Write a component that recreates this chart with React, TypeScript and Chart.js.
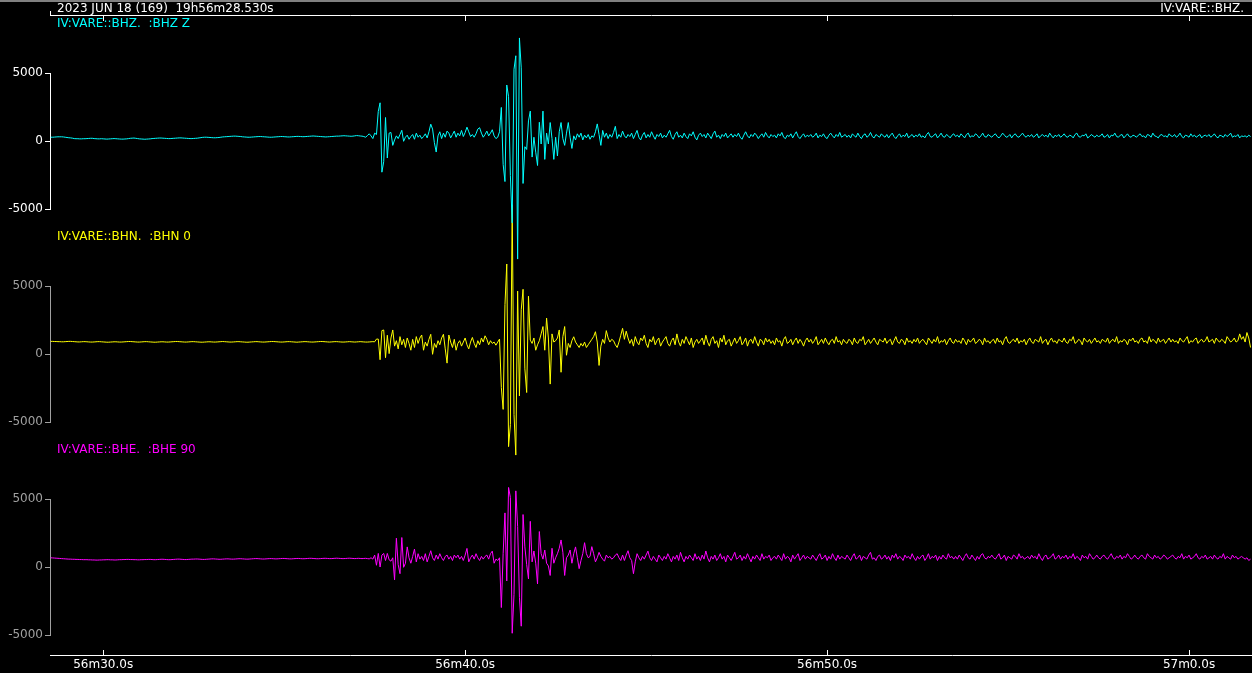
import React, { useEffect, useRef } from 'react';
import { Chart, registerables } from 'chart.js';

Chart.register(...registerables);

const headerLeft = '2023 JUN 18 (169)  19h56m28.530s';
const headerRight = 'IV:VARE::BHZ.';
const channelLabels = ['IV:VARE::BHZ.  :BHZ Z', 'IV:VARE::BHN.  :BHN 0', 'IV:VARE::BHE.  :BHE 90'];
const channelColors = ['#00ffff', '#ffff00', '#ff00ff'];
const axisColors = ['#ffffff', '#a0a0a0', '#a0a0a0'];

// time in seconds after 19h56m00s
const timeMin = 28.53;
const timeMax = 61.74;
const sampleStart = 28.55;
const sampleStep = 0.05;
const timeTickValues = [30, 40, 50, 60];
const timeTickLabels = ['56m30.0s', '56m40.0s', '56m50.0s', '57m0.0s'];
const ampTickValues = [-5000, 0, 5000];
const ampTickLabels = ['-5000', '0', '5000'];

// BHZ counts, one sample per 0.05 s (rows of 1 s)
const zValues = [
  300,300,310,320,330,330,330,320,300,280,260,250,230,200,190,190,180,180,190,190,
  200,210,220,220,200,190,180,180,190,180,170,160,170,180,190,200,190,180,170,160,
  160,170,180,200,220,230,240,220,200,180,170,160,150,160,170,180,200,210,220,230,
  240,240,230,220,210,200,200,210,220,230,240,250,250,240,230,220,210,200,200,210,
  220,230,250,270,290,300,300,290,280,270,260,260,270,280,300,320,330,340,350,360,
  370,380,380,370,360,350,330,320,310,300,300,310,320,330,340,350,350,340,330,320,
  310,300,300,310,320,330,340,350,350,340,330,320,320,330,340,350,360,360,350,340,
  340,350,360,370,380,390,380,370,360,350,340,330,320,330,340,350,360,370,380,380,
  390,400,410,400,390,380,370,380,400,420,410,390,380,350,300,420,550,400,200,600,
  500,2200,2830,-2270,-1500,1750,-1230,600,650,-300,100,400,200,500,810,0,300,450,150,350,
  500,150,600,300,450,200,350,550,250,700,1260,900,-100,-790,400,700,200,600,300,750,
  600,250,500,750,300,600,400,800,350,650,1040,700,350,500,300,550,900,1000,600,300,
  500,750,400,600,850,400,200,300,700,2490,-1700,-2960,4140,3280,-2520,-6000,5300,6290,-8660,7600,
  5400,-3100,-400,-600,1500,2220,-1160,300,-800,-1780,1400,-200,2220,-1330,600,-200,1380,200,-1330,300,
  -1080,700,1380,200,-300,600,1380,300,-525,400,100,550,300,600,100,450,250,500,150,400,
  300,700,1280,500,-300,800,300,600,200,500,300,650,1100,200,500,300,750,400,250,500,
  350,600,200,500,800,300,100,450,650,250,500,300,700,400,150,500,350,600,250,450,
  300,550,800,350,150,500,700,300,450,250,600,350,200,550,400,700,300,100,450,600,
  350,500,250,600,400,200,550,750,300,450,200,500,350,600,250,400,550,300,500,350,
  600,300,150,450,700,400,250,500,350,600,450,200,400,550,300,650,400,250,500,350,
  450,250,550,400,650,300,200,450,350,550,250,500,700,350,200,400,550,300,450,350,
  500,300,400,600,250,450,350,550,300,200,450,600,400,250,500,350,650,300,400,500,
  300,450,250,550,400,300,600,350,200,450,550,300,400,650,350,250,500,400,300,550,
  400,300,500,250,450,600,350,200,400,550,300,450,350,600,250,400,500,300,450,350,
  550,300,400,250,500,650,350,300,450,550,250,400,600,350,300,500,400,250,450,550,
  350,450,300,550,400,250,500,600,300,400,350,550,450,250,400,600,350,300,500,400,
  300,450,550,350,250,400,600,450,300,350,500,250,450,550,350,300,450,600,400,300,
  450,350,500,300,400,550,250,400,500,350,450,300,600,400,250,450,350,500,300,400,
  550,350,300,450,400,250,500,600,350,300,450,400,550,250,350,500,400,300,450,350,
  400,550,300,350,500,250,450,400,600,350,300,450,500,250,400,550,350,300,450,400,
  300,450,550,350,400,250,500,450,300,600,400,350,250,450,500,350,400,300,550,400,
  350,500,300,400,600,350,250,450,400,300,550,350,450,300,400,500,250,400,450,350,
  500,300,400,550,350,250,450,400,300,500,350,450,600,300,400,350,500,250,400,350,
  400,300,450,350,
];

// BHN counts
const nValues = [
  950,950,940,940,930,930,920,920,930,940,950,950,940,930,920,910,910,920,930,930,
  920,910,900,900,910,920,930,930,920,910,900,890,890,900,910,920,920,910,900,900,
  910,920,930,940,940,930,920,910,900,900,910,920,930,930,920,910,900,890,890,900,
  910,920,920,910,900,900,910,920,930,940,940,930,920,910,900,900,910,920,930,930,
  920,910,900,890,890,900,910,920,920,910,900,900,910,920,930,940,930,920,910,900,
  900,910,920,930,930,920,910,900,890,890,900,910,920,930,930,920,910,900,900,910,
  920,930,940,940,930,920,910,900,900,910,920,930,930,920,910,900,890,900,910,920,
  930,930,920,910,900,900,910,920,930,940,940,930,920,910,900,910,920,930,930,920,
  910,900,900,910,920,930,920,910,900,910,920,930,920,910,900,900,910,920,930,920,
  1120,1120,-400,1740,1790,-250,1400,50,1200,1790,600,1000,400,1300,700,1100,500,1200,800,300,
  1100,500,1300,800,1200,1420,300,900,600,1100,1470,0,800,500,1000,700,1200,1470,400,-650,
  1420,900,500,1100,300,800,1000,600,900,1200,700,400,900,1240,800,500,1000,700,1200,900,
  1360,1100,700,1000,800,900,670,900,1120,-2440,-4050,3650,6640,-6790,-5170,11000,-4430,-7410,4650,-3060,
  3280,4780,-1070,-2810,4270,1040,800,1200,300,700,1000,1500,2040,300,2660,1200,-2190,1500,900,1000,
  1200,1790,-1320,1300,2040,-70,800,500,1000,1290,900,700,500,800,600,900,500,700,900,1100,
  1300,1660,900,-820,600,1100,800,1740,1200,900,1100,1000,700,500,900,1400,1910,1100,1700,1200,
  800,1100,600,1300,900,700,1200,1000,1400,800,500,1100,900,1300,700,1000,1200,600,900,1100,
  1300,800,600,1000,1200,700,1500,900,600,1100,800,1300,1000,700,1200,500,900,1100,800,1000,
  1200,700,1400,900,600,1100,1300,800,1000,500,1200,900,1400,700,1000,1100,600,900,1200,800,
  1000,1300,700,900,1200,600,1000,1100,800,1300,900,600,1100,1000,700,1200,900,1100,800,1000,
  700,1200,900,1000,600,1100,1300,800,900,1100,700,1000,1200,800,1100,900,600,1000,1200,900,
  1100,800,1000,1300,700,900,1100,800,1200,900,700,1000,1100,800,1300,900,1000,700,1100,900,
  800,1100,1000,700,1200,900,800,1100,1000,1300,700,900,1100,800,1000,1200,900,700,1100,1000,
  900,1200,800,1000,1100,700,1000,1300,900,800,1100,1000,700,1200,900,1000,800,1100,900,1200,
  800,1000,1100,900,700,1200,1000,800,1100,900,1300,800,1000,900,1100,700,1000,1200,900,800,
  1100,900,1000,800,1200,1000,700,1100,900,1000,1200,800,900,1100,1000,700,1200,900,1000,800,
  1000,1100,800,1200,900,1000,700,1100,1300,900,800,1000,1100,900,1200,800,1000,900,1100,700,
  1000,1200,900,800,1100,1000,900,1300,800,1000,1100,700,1000,1200,900,1000,800,1100,1000,900,
  1200,900,800,1100,1000,1300,800,900,1100,1000,700,1200,1000,900,1100,800,1000,1200,900,1000,
  800,1100,1000,900,1200,800,1000,1100,900,1300,800,1000,900,1100,1000,700,1100,1000,1200,900,
  1000,800,1100,1200,900,1000,800,1300,900,1100,1000,800,1200,900,1000,1100,800,1000,1200,900,
  1100,900,1000,800,1200,1000,900,1100,1300,800,1000,900,1100,1200,800,1000,1100,900,1000,1300,
  900,1000,1100,800,1200,1000,900,1100,1000,800,1300,1100,900,1000,1200,900,1000,1500,1100,1300,
  900,1600,1200,500,
];

// BHE counts
const eValues = [
  700,690,680,670,660,650,640,630,620,610,600,600,590,590,580,580,570,570,560,560,
  560,550,550,540,540,530,530,540,540,550,550,560,560,550,550,540,540,550,560,560,
  570,570,580,580,570,570,560,560,550,550,560,560,570,570,580,580,570,560,560,570,
  580,590,590,580,570,560,560,570,580,590,600,600,590,580,570,570,580,590,600,600,
  610,610,600,590,580,580,590,600,610,620,620,610,600,590,590,600,610,620,620,610,
  600,600,610,620,630,630,620,610,600,600,610,620,630,640,640,630,620,610,610,620,
  630,640,640,630,620,620,630,640,650,650,640,630,620,620,630,640,650,650,640,630,
  630,640,650,660,660,650,640,630,630,640,650,660,660,650,640,640,650,660,670,660,
  650,640,640,650,660,670,660,650,640,650,660,650,640,650,660,640,620,700,600,900,
  150,1020,20,900,1020,500,1020,550,450,700,-920,2140,200,-470,2190,0,300,1500,700,300,
  800,1340,400,1000,600,800,500,1000,400,800,1220,700,500,900,600,1000,700,500,800,900,
  600,800,500,900,700,900,600,800,500,900,1390,400,700,900,600,1000,700,500,800,600,
  800,900,600,1000,1190,300,600,500,700,-2960,1000,4000,-1000,5870,5130,-4850,-2000,5620,3000,-2210,
  -4330,3880,1500,200,-850,3380,400,1200,300,-1220,2630,1000,600,1270,300,100,-600,1400,300,700,
  1000,1400,2010,1100,-600,700,900,1270,300,1000,1500,700,-100,500,1000,1810,1000,700,800,1520,
  1000,400,700,1100,800,600,450,900,700,800,600,700,900,1000,700,500,900,500,900,1220,
  700,500,-470,400,1000,700,500,800,600,900,1190,700,500,800,600,400,900,700,500,800,
  600,1000,700,400,800,600,900,500,1100,700,400,800,600,900,700,500,1000,600,800,500,
  900,600,1200,700,400,800,600,900,500,700,1000,600,800,400,900,700,500,800,1100,600,
  700,900,500,800,600,1000,700,400,800,600,900,700,500,1000,600,800,700,900,500,700,
  800,600,900,700,500,1000,600,800,700,400,900,600,800,1000,500,700,900,600,800,700,
  600,900,700,500,800,1000,600,700,900,500,800,600,1000,700,500,900,600,800,700,600,
  900,700,500,800,1000,600,700,900,500,800,700,600,900,1100,600,700,500,800,900,600,
  700,900,600,800,500,900,700,1000,600,800,700,500,900,700,800,600,1000,700,500,800,
  600,800,900,500,700,1000,600,800,700,900,500,800,600,900,700,600,1000,700,800,600,
  800,600,900,700,500,800,1000,700,600,900,700,500,800,600,900,1000,700,600,800,700,
  900,700,600,800,1000,600,700,900,500,800,700,600,900,800,600,1000,700,800,600,700,
  800,600,900,700,800,600,1000,700,500,800,900,600,700,800,1000,600,700,900,600,800,
  700,900,600,800,700,1000,600,800,700,500,900,700,800,600,1000,800,600,700,900,700,
  600,800,900,700,600,800,1000,700,600,800,700,900,600,800,700,1000,800,600,700,900,
  700,600,800,900,700,600,1000,800,700,600,900,700,800,600,700,900,800,600,700,800,
  900,700,600,800,700,1000,600,800,700,900,600,700,800,1000,700,600,800,700,900,600,
  700,800,600,900,700,600,800,700,1000,600,800,700,600,900,700,800,600,700,800,700,
  600,700,500,600,
];

const FONT = { family: 'DejaVu Sans', size: 12 };

const toPoints = (vals: number[]) => vals.map((v, i) => ({ x: sampleStart + i * sampleStep, y: v }));

const panelAxis = (weight: number, stackWeight: number, color: string) => ({
  type: 'linear',
  position: 'left',
  stack: 'panels',
  stackWeight,
  weight,
  min: -5000,
  max: 5000,
  afterFit: (s: any) => { s.width = 50; },
  afterBuildTicks: (s: any) => { s.ticks = ampTickValues.map((v) => ({ value: v })); },
  ticks: {
    color,
    font: FONT,
    padding: 2,
    autoSkip: false,
    callback: (v: any) => {
      const k = ampTickValues.indexOf(Number(v));
      return k >= 0 ? ampTickLabels[k] : '';
    },
  },
  grid: { display: true, drawOnChartArea: false, drawTicks: true, tickLength: 5, color, tickColor: color, lineWidth: 1 },
  border: { display: true, color, width: 1 },
});

const gapAxis = (weight: number, stackWeight: number) => ({
  type: 'linear',
  position: 'left',
  stack: 'panels',
  stackWeight,
  weight,
  afterFit: (s: any) => { s.width = 50; },
  ticks: { display: false },
  grid: { display: false, drawTicks: false },
  border: { display: false },
});

const decorPlugin = {
  id: 'decor',
  beforeDraw(chart: any) {
    const { ctx, width, height } = chart;
    ctx.save();
    ctx.fillStyle = '#000';
    ctx.fillRect(0, 0, width, height);
    ctx.restore();
  },
  afterDraw(chart: any) {
    const { ctx, chartArea, scales } = chart;
    ctx.save();
    ctx.fillStyle = '#808080';
    ctx.fillRect(0, 0, chart.width, 2);
    ctx.strokeStyle = '#ffffff';
    ctx.lineWidth = 1;
    ctx.beginPath();
    for (const v of timeTickValues) {
      const px = Math.round(scales.x.getPixelForValue(v)) + 0.5;
      ctx.moveTo(px, chartArea.top);
      ctx.lineTo(px, chartArea.top + 6);
      ctx.moveTo(px, chartArea.bottom);
      ctx.lineTo(px, chartArea.bottom - 5);
    }
    ctx.moveTo(chartArea.left + 0.5, chartArea.top - 4);
    ctx.lineTo(chartArea.left + 0.5, chartArea.top);
    ctx.stroke();
    ctx.font = '12px "DejaVu Sans"';
    ctx.textBaseline = 'alphabetic';
    ctx.fillStyle = '#ffffff';
    ctx.textAlign = 'left';
    ctx.fillText(headerLeft, chartArea.left + 7, 12);
    ctx.textAlign = 'right';
    ctx.fillText(headerRight, chart.width - 8, 12);
    ctx.textAlign = 'left';
    ['yZ', 'yN', 'yE'].forEach((id, k) => {
      ctx.fillStyle = channelColors[k];
      ctx.fillText(channelLabels[k], chartArea.left + 7, scales[id].top - 46);
    });
    ctx.restore();
  },
};

export default function App() {
  const canvasRef = useRef<HTMLCanvasElement | null>(null);

  useEffect(() => {
    const canvas = canvasRef.current;
    if (!canvas) return;
    const series = [zValues, nValues, eValues];
    const axisIds = ['yZ', 'yN', 'yE'];
    const chart = new Chart(canvas, {
      type: 'line',
      data: {
        datasets: series.map((vals, k) => ({
          label: channelLabels[k],
          data: toPoints(vals),
          borderColor: channelColors[k],
          backgroundColor: channelColors[k],
          borderWidth: 1,
          pointRadius: 0,
          tension: 0,
          fill: false,
          clip: false,
          xAxisID: 'x',
          yAxisID: axisIds[k],
        })),
      },
      options: {
        animation: false,
        responsive: false,
        events: [],
        layout: { padding: 0 },
        plugins: { legend: { display: false }, tooltip: { enabled: false }, title: { display: false } },
        scales: {
          x: {
            type: 'linear',
            position: 'bottom',
            min: timeMin,
            max: timeMax,
            afterFit: (s: any) => { s.height = 18; },
            afterBuildTicks: (s: any) => { s.ticks = timeTickValues.map((v) => ({ value: v })); },
            ticks: {
              color: '#ffffff',
              font: FONT,
              padding: 3,
              maxRotation: 0,
              autoSkip: false,
              callback: (v: any) => {
                const k = timeTickValues.indexOf(Number(v));
                return k >= 0 ? timeTickLabels[k] : '';
              },
            },
            grid: { display: false, drawTicks: false, tickLength: 0 },
            border: { display: true, color: '#ffffff', width: 1 },
          },
          xTop: {
            type: 'linear',
            position: 'top',
            min: timeMin,
            max: timeMax,
            afterFit: (s: any) => { s.height = 15; },
            ticks: { display: false },
            grid: { display: false, drawTicks: false, tickLength: 0 },
            border: { display: true, color: '#ffffff', width: 1 },
          },
          gap0: gapAxis(70, 58.3),
          yZ: panelAxis(60, 136, axisColors[0]),
          gap1: gapAxis(50, 77),
          yN: panelAxis(40, 136, axisColors[1]),
          gap2: gapAxis(30, 77),
          yE: panelAxis(20, 136, axisColors[2]),
          gap3: gapAxis(10, 19.7),
        } as any,
      },
      plugins: [decorPlugin],
    } as any);
    return () => chart.destroy();
  }, []);

  return (
    <div style={{ position: 'fixed', left: 0, top: 0, width: 1252, height: 673, background: '#000' }}>
      <canvas ref={canvasRef} width={1252} height={673} style={{ display: 'block' }} />
    </div>
  );
}
